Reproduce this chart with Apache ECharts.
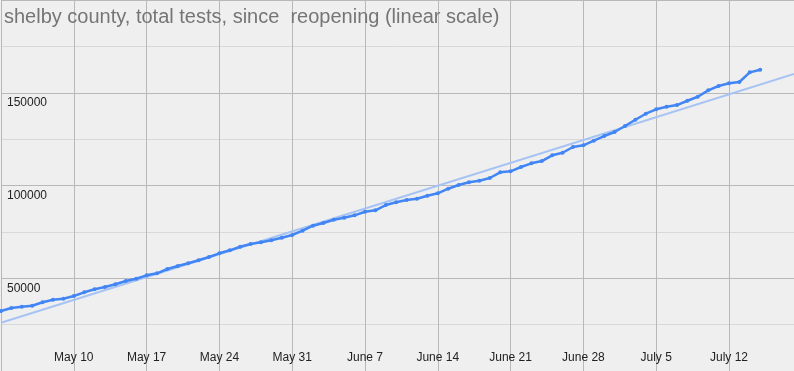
<!DOCTYPE html>
<html>
<head>
<meta charset="utf-8">
<script src="https://cdn.jsdelivr.net/npm/echarts@6/dist/echarts.min.js"></script>
<style>
html,body{margin:0;padding:0;background:#efefef;}
#chart{width:794px;height:371px;}
</style>
</head>
<body>
<div id="chart"></div>
<script>
// Days counted from May 3 (day 0), one value per day through July 15
const startLabel = 'May 3';
const totalTests = [
  32340, 33960, 34660, 35200, 37030, 38430, 38970, 40430, 42420, 44040,
  45280, 46730, 48510, 49750, 51580, 52660, 54980, 56600, 58050, 59670,
  61450, 63440, 65060, 67000, 68450, 69370, 70450, 71850, 73310,
  75630, 78320, 79780, 81560, 82640, 83930, 85870, 86620, 89480, 90940,
  92170, 92870, 94490, 95780, 98260, 100260, 101720, 102580, 104030, 107100,
  107650, 109960, 111960, 113190, 116270, 117670, 120740, 121660, 124140, 126670,
  128830, 132060, 135460, 138700, 141070, 142470, 143380, 145700, 147860, 151310,
  153630, 155080, 155790, 161000, 162410
];
// linear trendline endpoints (day, value)
const trendDays = [0, 76.25];
const trendValues = [26030, 160080];
const xTickLabels = ['May 10', 'May 17', 'May 24', 'May 31', 'June 7', 'June 14',
                     'June 21', 'June 28', 'July 5', 'July 12'];
const yTickValues = [0, 50000, 100000, 150000, 200000];

const testData = totalTests.map((v, i) => [i, v]);
const trendData = trendDays.map((d, i) => [d, trendValues[i]]);

const chart = echarts.init(document.getElementById('chart'), null, {renderer: 'canvas'});
chart.setOption({
  animation: false,
  backgroundColor: '#efefef',
  title: {
    text: 'shelby county, total tests, since  reopening (linear scale)',
    left: 4,
    top: 7,
    padding: 0,
    textStyle: {
      fontFamily: 'Liberation Sans, Arial, sans-serif',
      fontSize: 20,
      fontWeight: 'normal',
      color: '#757575'
    }
  },
  grid: {left: 1, right: 0, top: 0, bottom: 0, containLabel: false},
  xAxis: {
    type: 'value',
    min: 0,
    max: 76.25,
    interval: 7,
    axisLine: {show: false},
    axisTick: {show: false},
    splitLine: {show: true, lineStyle: {color: '#b8b8b8', width: 1}},
    axisLabel: {
      inside: true,
      margin: 7,
      showMinLabel: false,
      showMaxLabel: false,
      fontFamily: 'Liberation Sans, Arial, sans-serif',
      fontSize: 12,
      color: '#222222',
      formatter: function (v) {
        const k = Math.round(v / 7) - 1;
        return (k >= 0 && k < xTickLabels.length) ? xTickLabels[k] : '';
      }
    }
  },
  yAxis: {
    type: 'value',
    min: yTickValues[0],
    max: yTickValues[yTickValues.length - 1],
    interval: yTickValues[1] - yTickValues[0],
    axisLine: {show: false},
    axisTick: {show: false},
    minorTick: {show: false, splitNumber: 2},
    splitLine: {show: true, lineStyle: {color: '#b8b8b8', width: 1}},
    minorSplitLine: {show: true, lineStyle: {color: '#d8d8d8', width: 1}},
    axisLabel: {
      inside: true,
      margin: 6,
      showMinLabel: false,
      showMaxLabel: false,
      verticalAlign: 'top',
      padding: [4, 0, 0, 0],
      fontFamily: 'Liberation Sans, Arial, sans-serif',
      fontSize: 12,
      color: '#222222',
      formatter: function (v) { return String(v); }
    }
  },
  series: [
    {
      name: 'trend',
      type: 'line',
      data: trendData,
      symbol: 'none',
      z: 2,
      lineStyle: {color: '#a6c3f4', width: 2},
      silent: true
    },
    {
      name: 'total tests',
      type: 'line',
      data: testData,
      symbol: 'circle',
      symbolSize: 4,
      z: 3,
      itemStyle: {color: '#4285f4'},
      lineStyle: {color: '#4285f4', width: 2.5}
    }
  ]
});
</script>
</body>
</html>
